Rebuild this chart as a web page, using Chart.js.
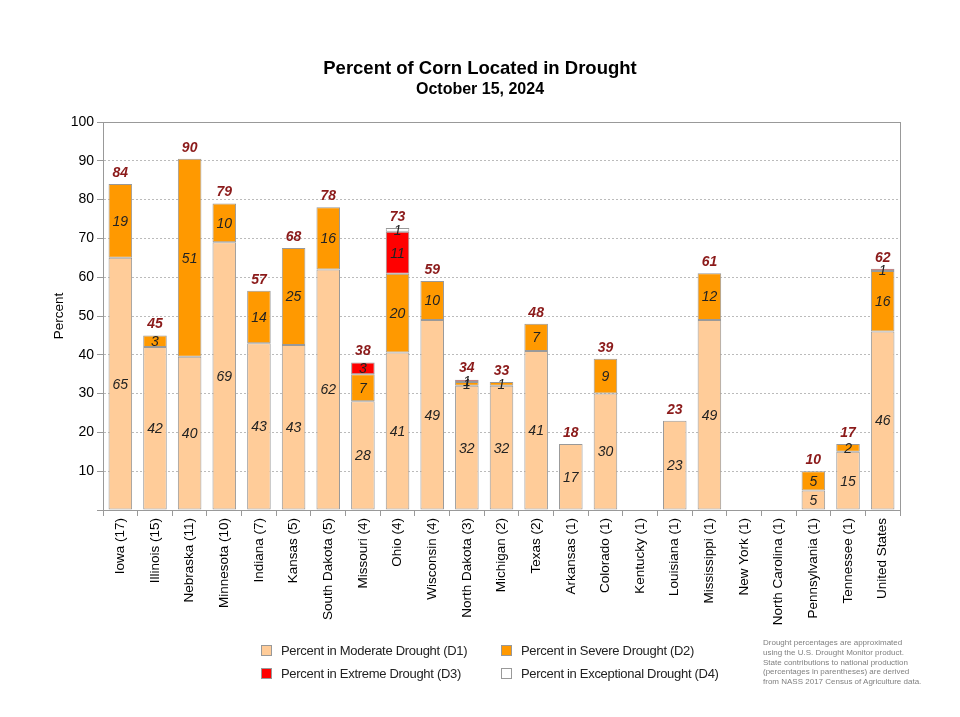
<!DOCTYPE html>
<html>
<head>
<meta charset="utf-8">
<script src="https://cdn.jsdelivr.net/npm/chart.js@4/dist/chart.umd.min.js"></script>
<style>
  body { margin: 0; background: #fff; font-family: Arial, "Liberation Sans", sans-serif; }
  #wrap { position: relative; width: 960px; height: 717px; }
  #chart { position: absolute; left: 0; top: 0; }
  .title { position: absolute; left: 0; width: 960px; text-align: center; font-weight: bold; color: #000; }
  .legend { position: absolute; font-family: Arial, sans-serif; font-size: 13px; letter-spacing: -0.3px; color: #222; }
  .legend span.box { display: inline-block; width: 9px; height: 9px; border: 1px solid #999; margin-right: 9px; vertical-align: -1px; }
  .note { position: absolute; left: 763px; top: 638px; font-size: 8px; line-height: 9.8px; color: #808080; font-family: Arial, sans-serif; }
</style>
</head>
<body>
<div id="wrap">
  <canvas id="chart" width="960" height="717"></canvas>
  <div class="title" style="top:57px;font-size:18.5px;">Percent of Corn Located in Drought</div>
  <div class="title" style="top:80px;font-size:16px;">October 15, 2024</div>
  <div class="legend" style="left:261px;top:643px;"><span class="box" style="background:#FFCC99"></span>Percent in Moderate Drought (D1)</div>
  <div class="legend" style="left:501px;top:643px;"><span class="box" style="background:#FF9900"></span>Percent in Severe Drought (D2)</div>
  <div class="legend" style="left:261px;top:666px;"><span class="box" style="background:#FF0000"></span>Percent in Extreme Drought (D3)</div>
  <div class="legend" style="left:501px;top:666px;"><span class="box" style="background:#FFFFFF"></span>Percent in Exceptional Drought (D4)</div>
  <div class="note">Drought percentages are approximated<br>using the U.S. Drought Monitor product.<br>State contributions to national production<br>(percentages in parentheses) are derived<br>from NASS 2017 Census of Agriculture data.</div>
</div>
<script>
const states = ['Iowa (17)', 'Illinois (15)', 'Nebraska (11)', 'Minnesota (10)', 'Indiana (7)', 'Kansas (5)',
  'South Dakota (5)', 'Missouri (4)', 'Ohio (4)', 'Wisconsin (4)', 'North Dakota (3)', 'Michigan (2)',
  'Texas (2)', 'Arkansas (1)', 'Colorado (1)', 'Kentucky (1)', 'Louisiana (1)', 'Mississippi (1)',
  'New York (1)', 'North Carolina (1)', 'Pennsylvania (1)', 'Tennessee (1)', 'United States'];

const d1 = [65, 42, 39.5, 69, 43, 42.5, 62, 28, 40.6, 49, 32, 32, 41, 17, 30, 0, 23, 49, 0, 0, 5, 15, 46];
const d2 = [19, 3, 51, 10, 13.5, 25, 16, 7, 20.3, 10, 1, 1, 7, 0, 9, 0, 0, 12, 0, 0, 5, 2, 15.6];
const d3 = [0, 0, 0, 0, 0, 0, 0, 3, 10.8, 0, 0.6, 0, 0, 0, 0, 0, 0, 0, 0, 0, 0, 0, 0.6];
const d4 = [0, 0, 0, 0, 0, 0, 0, 0, 1, 0, 0, 0, 0, 0, 0, 0, 0, 0, 0, 0, 0, 0, 0];
const totals = [84, 45, 90, 79, 57, 68, 78, 38, 73, 59, 34, 33, 48, 18, 39, 0, 23, 61, 0, 0, 10, 17, 62];
const yTicks = [0, 10, 20, 30, 40, 50, 60, 70, 80, 90, 100];

const seriesNames = ['Percent in Moderate Drought (D1)', 'Percent in Severe Drought (D2)',
  'Percent in Extreme Drought (D3)', 'Percent in Exceptional Drought (D4)'];
const seriesColors = ['#FFCC99', '#FF9900', '#FF0000', '#FFFFFF'];

// labels inside segments and totals on top
const barLabels = {
  id: 'barLabels',
  afterDatasetsDraw(chart) {
    const ctx = chart.ctx;
    ctx.save();
    ctx.textAlign = 'center';
    ctx.textBaseline = 'middle';
    ctx.font = 'italic 14px Arial';
    ctx.fillStyle = '#222';
    chart.data.datasets.forEach((ds, i) => {
      const meta = chart.getDatasetMeta(i);
      meta.data.forEach((bar, j) => {
        const v = ds.data[j];
        if (!v) return;
        ctx.fillText(Math.max(1, Math.round(v)), bar.x, (bar.y + bar.base) / 2 + 1);
      });
    });
    ctx.font = 'bold italic 14px Arial';
    ctx.fillStyle = '#8B1A1A';
    const first = chart.getDatasetMeta(0).data;
    totals.forEach((t, j) => {
      if (!t) return;
      const y = chart.scales.y.getPixelForValue(d1[j] + d2[j] + d3[j] + d4[j]);
      ctx.fillText(t, first[j].x, y - 11);
    });
    // plot frame
    const a = chart.chartArea;
    ctx.strokeStyle = '#999';
    ctx.lineWidth = 1;
    ctx.strokeRect(a.left + 0.5, a.top + 0.5, a.right - a.left, a.bottom - a.top);
    ctx.restore();
  }
};

const ctx = document.getElementById('chart').getContext('2d');
new Chart(ctx, {
  type: 'bar',
  data: {
    labels: states,
    datasets: [d1, d2, d3, d4].map((arr, i) => ({
      label: seriesNames[i],
      data: arr,
      backgroundColor: seriesColors[i],
      borderColor: '#999',
      borderWidth: 1,
      borderSkipped: false,
      barPercentage: 0.68,
      categoryPercentage: 1
    }))
  },
  options: {
    responsive: false,
    animation: false,
    layout: { padding: { left: 47, right: 60, top: 122, bottom: 87 } },
    plugins: {
      legend: { display: false },
      title: { display: false },
      tooltip: { enabled: false }
    },
    scales: {
      x: {
        stacked: true,
        grid: { drawOnChartArea: false, drawTicks: true, tickLength: 6, color: '#999', offset: true },
        border: { color: '#999' },
        ticks: { minRotation: 90, maxRotation: 90, autoSkip: false, color: '#000', font: { family: 'Arial', size: 13.5 }, padding: 2 },
        afterFit: s => { s.height = 120; }
      },
      y: {
        stacked: true,
        min: yTicks[0],
        max: yTicks[yTicks.length - 1],
        afterBuildTicks: s => { s.ticks = yTicks.map(v => ({ value: v })); },
        grid: { color: '#bbb', tickLength: 6, tickColor: '#999', tickBorderDash: [] },
        border: { color: '#999', dash: [2, 2] },
        ticks: { color: '#000', font: { family: 'Arial', size: 14 }, padding: 3, callback: v => v === 0 ? '' : v },
        title: { display: true, text: 'Percent', color: '#000', font: { family: 'Arial', size: 13.5 }, padding: { top: 4, bottom: 0 } },
        afterFit: s => { s.width = 56; }
      }
    }
  },
  plugins: [barLabels]
});
</script>
</body>
</html>
